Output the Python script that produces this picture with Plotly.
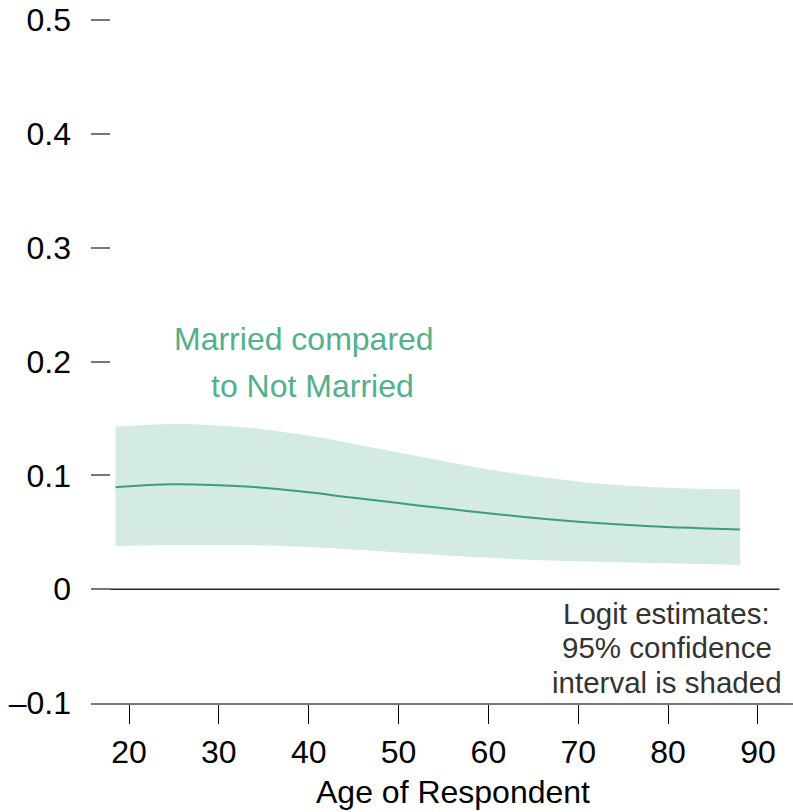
import plotly.graph_objects as go

ages = [18.5, 25, 33.5, 39, 44.5, 50, 55.5, 61, 67, 72.5, 78, 83.5, 88]
estimate = [0.0896, 0.0922, 0.0900, 0.0860, 0.0808, 0.0756, 0.0706, 0.0658, 0.0612, 0.0578, 0.0553, 0.0536, 0.0524]
upper = [0.1426, 0.1452, 0.1417, 0.1360, 0.1285, 0.1200, 0.1118, 0.1040, 0.0975, 0.0925, 0.0897, 0.0882, 0.0878]
lower = [0.0378, 0.0387, 0.0387, 0.0374, 0.0350, 0.0322, 0.0296, 0.0272, 0.0252, 0.0240, 0.0230, 0.0220, 0.0213]

x_ticks = [20, 30, 40, 50, 60, 70, 80, 90]
y_ticks = [-0.1, 0, 0.1, 0.2, 0.3, 0.4, 0.5]
y_ticktext = ["\u20130.1", "0", "0.1", "0.2", "0.3", "0.4", "0.5"]

note_lines = ["Logit estimates:", "95% confidence", "interval is shaded"]
note_y = [-0.0214, -0.0513, -0.0820]

FONT = "Liberation Sans, Arial, Helvetica, sans-serif"
GREEN_LINE = "#3a9e78"
GREEN_FILL = "#d3ebe2"
GREEN_TEXT = "#52b08a"

fig = go.Figure()
fig.add_trace(go.Scatter(x=ages, y=upper, mode="lines", line=dict(width=0, shape="spline"),
                         hoverinfo="skip", showlegend=False))
fig.add_trace(go.Scatter(x=ages, y=lower, mode="lines", line=dict(width=0, shape="spline"),
                         fill="tonexty", fillcolor=GREEN_FILL, hoverinfo="skip", showlegend=False))
fig.add_trace(go.Scatter(x=ages, y=estimate, mode="lines",
                         line=dict(color=GREEN_LINE, width=2, shape="spline"), showlegend=False))

fig.add_shape(type="line", x0=17.9, x1=92.4, y0=0, y1=0, xref="x", yref="y",
              line=dict(color="#222222", width=1.5))

fig.add_annotation(x=39.47, y=0.2196, xref="x", yref="y", text="Married compared",
                   showarrow=False, font=dict(size=32, color=GREEN_TEXT, family=FONT))
fig.add_annotation(x=40.42, y=0.1783, xref="x", yref="y", text="to Not Married",
                   showarrow=False, font=dict(size=32, color=GREEN_TEXT, family=FONT))
for txt, yv in zip(note_lines, note_y):
    fig.add_annotation(x=79.87, y=yv, xref="x", yref="y", text=txt,
                       showarrow=False, align="center",
                       font=dict(size=29.5, color="#333333", family=FONT))

# x-axis title placed as an annotation to match its horizontal offset
fig.add_annotation(x=0.5157, y=-0.1266, xref="paper", yref="paper", text="Age of Respondent",
                   showarrow=False, yanchor="middle",
                   font=dict(size=32, color="black", family=FONT))

fig.update_layout(
    width=793, height=812,
    margin=dict(l=91, r=0, t=0, b=109, autoexpand=False),
    paper_bgcolor="white", plot_bgcolor="white",
    font=dict(family=FONT, size=32, color="black"),
    xaxis=dict(range=[15.77, 93.9], tickvals=x_ticks, ticks="outside", ticklen=19,
               tickcolor="black", tickwidth=1, showline=True, linecolor="#777777", linewidth=1.5,
               showgrid=False, zeroline=False, tickfont=dict(size=32), ticklabelstandoff=1,
               ticklabeloverflow="allow"),
    yaxis=dict(range=[-0.1, 0.51757], tickvals=y_ticks, ticktext=y_ticktext, ticks="inside",
               ticklen=19, tickcolor="#777777", tickwidth=1.5, showline=False, showgrid=False,
               zeroline=False, tickfont=dict(size=32), ticklabelstandoff=19,
               ticklabeloverflow="allow"),
)

fig.write_html("out.html", config={"displayModeBar": False},
               post_script="document.body.style.margin='0';document.body.style.overflow='hidden';")
